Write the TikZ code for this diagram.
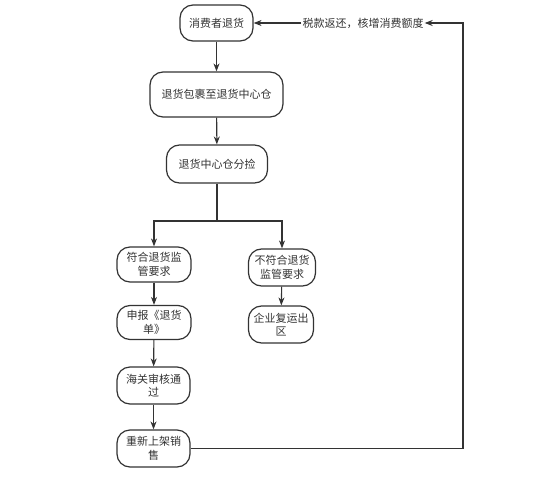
\documentclass[tikz,border=0pt]{standalone}
\usepackage{fontspec}
\setmainfont{Noto Sans CJK SC}
\usetikzlibrary{arrows.meta}
\definecolor{ink}{HTML}{333333}
\begin{document}
\begin{tikzpicture}[x=1pt,y=-1pt,
  box/.style={draw=ink, line width=1.2pt, rounded corners=13pt, align=center,
    inner sep=0pt, font=\fontsize{11pt}{13.5pt}\selectfont, text=ink},
  arr/.style={draw=ink, line width=1.1pt, -{Stealth[length=8pt,width=6pt]}},
  ln/.style={draw=ink, line width=1.1pt}]
\useasboundingbox[fill=white] (0,0) rectangle (560,490);
\node[box, minimum width=73pt, minimum height=36pt] (n1) at (216.5,23) {消费者退货};
\node[box, minimum width=133pt, minimum height=45pt] (n2) at (216.5,94.5) {退货包裹至退货中心仓};
\node[box, minimum width=101pt, minimum height=38pt] (n3) at (217,164) {退货中心仓分捡};
\coordinate (split) at (217,221);
\node[box, minimum width=74pt, minimum height=35pt] (l1) at (154,264.5) {符合退货监\\管要求};
\node[box, minimum width=67pt, minimum height=37pt] (r1) at (282,267.5) {不符合退货\\监管要求};
\node[box, minimum width=74pt, minimum height=34pt] (l2) at (154,322.5) {申报《退货\\单》};
\node[box, minimum width=65pt, minimum height=37pt] (r2) at (281,324.5) {企业复运出\\区};
\node[box, minimum width=73pt, minimum height=37pt] (l3) at (153.5,385.5) {海关审核通\\过};
\node[box, minimum width=73pt, minimum height=37pt] (l4) at (153.5,448.5) {重新上架销\\售};
\node[inner sep=1pt, font=\fontsize{11pt}{13pt}\selectfont, text=ink] (fb) at (363,23) {税款返还，核增消费额度};
\coordinate (corner) at (463,23);
\draw[arr] (n1) -- (n2);
\draw[arr] (n2) -- (n3);
\draw[ln] (n3) -- (split);
\draw[arr] (split) -| (l1);
\draw[arr] (split) -| (r1);
\draw[arr] (l1) -- (l2);
\draw[arr] (r1) -- (r2);
\draw[arr] (l2) -- (l3);
\draw[arr] (l3) -- (l4);
\draw[arr] (l4.east) -| (corner) -- (fb.east);
\draw[arr] (fb.west) -- (n1.east);
\end{tikzpicture}
\end{document}
